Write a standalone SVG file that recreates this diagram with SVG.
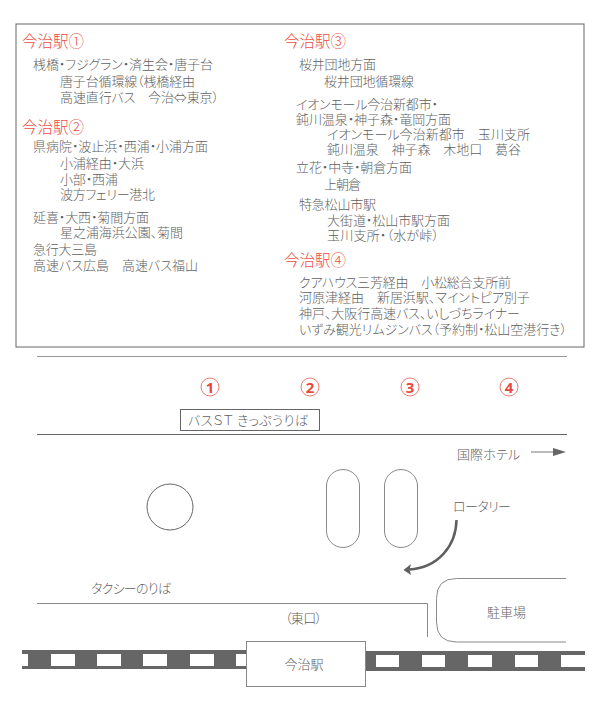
<svg xmlns="http://www.w3.org/2000/svg" width="600" height="725" viewBox="0 0 600 725">
<style>
text{font-family:"Noto Sans CJK JP","Noto Sans",sans-serif;fill:#5f5f5f;font-size:13px;font-weight:300;font-feature-settings:"palt"}
.h{fill:#ea4f45;font-size:15.5px;font-feature-settings:normal}
.n{fill:#e8493f;font-family:"Open Sans","Noto Sans",sans-serif;font-weight:700;font-size:15px;text-anchor:middle}
.m{font-size:13px;text-anchor:middle}
.c{fill:#fff;stroke:#ee7a72;stroke-width:1}
.s{fill:none;stroke:#666;stroke-width:1}
.g{fill:none;stroke:#8a8a8a;stroke-width:1}
.w{fill:#fff}
</style>
<g id="legend">
<rect x="16" y="24" width="568" height="323" fill="#fff" stroke="#666"/>
<text class="h" x="22" y="47">今治駅①</text>
<text x="33" y="69" textLength="180">桟橋・フジグラン・済生会・唐子台</text>
<text x="60" y="86" textLength="135">唐子台循環線（桟橋経由</text>
<text x="60" y="102" textLength="159">高速直行バス　今治⇔東京）</text>
<text class="h" x="22" y="133">今治駅②</text>
<text x="33" y="151" textLength="175">県病院・波止浜・西浦・小浦方面</text>
<text x="60" y="168" textLength="84">小浦経由・大浜</text>
<text x="60" y="184" textLength="58">小部・西浦</text>
<text x="60" y="199" textLength="95">波方フェリー港北</text>
<text x="33" y="222" textLength="116">延喜・大西・菊間方面</text>
<text x="60" y="237" textLength="123">星之浦海浜公園、菊間</text>
<text x="33" y="254" textLength="64">急行大三島</text>
<text x="33" y="270" textLength="165">高速バス広島　高速バス福山</text>
<text class="h" x="284" y="47">今治駅③</text>
<text x="299" y="69" textLength="77">桜井団地方面</text>
<text x="324" y="86" textLength="90">桜井団地循環線</text>
<text x="296" y="109" textLength="142">イオンモール今治新都市・</text>
<text x="296" y="124" textLength="155">鈍川温泉・神子森・竜岡方面</text>
<text x="327" y="139" textLength="203">イオンモール今治新都市　玉川支所</text>
<text x="327" y="154" textLength="194">鈍川温泉　神子森　木地口　葛谷</text>
<text x="296" y="172" textLength="116">立花・中寺・朝倉方面</text>
<text x="324" y="189" textLength="37">上朝倉</text>
<text x="299" y="209" textLength="77">特急松山市駅</text>
<text x="327" y="225" textLength="123">大街道・松山市駅方面</text>
<text x="327" y="240" textLength="112">玉川支所・（水が峠）</text>
<text class="h" x="284" y="266">今治駅④</text>
<text x="299" y="287" textLength="212">クアハウス三芳経由　小松総合支所前</text>
<text x="299" y="302" textLength="231">河原津経由　新居浜駅、マイントピア別子</text>
<text x="299" y="318" textLength="221">神戸、大阪行高速バス、いしづちライナー</text>
<text x="299" y="334" textLength="268">いずみ観光リムジンバス（予約制・松山空港行き）</text>
</g>
<g id="roads">
<path d="M37 356.500H567" stroke="#999" fill="none"/>
<path d="M37 434.500H567" class="s"/>
<path d="M37 603.500H427.500V637" class="g"/>
</g>
<g id="stop1"><circle class="c" cx="210" cy="387" r="9"/><text class="n" x="210" y="392.500">1</text></g>
<g id="stop2"><circle class="c" cx="310" cy="387" r="9"/><text class="n" x="310" y="392.500">2</text></g>
<g id="stop3"><circle class="c" cx="410" cy="387" r="9"/><text class="n" x="410" y="392.500">3</text></g>
<g id="stop4"><circle class="c" cx="509" cy="387" r="9"/><text class="n" x="509" y="392.500">4</text></g>
<g id="ticket"><rect class="s" x="180.500" y="409.500" width="139" height="21"/><text x="188" y="425" textLength="120">バスＳＴ きっぷうりば</text></g>
<g id="circle"><circle class="s" cx="170" cy="507" r="23"/></g>
<g id="island1"><rect class="g" x="326.500" y="469.500" width="33" height="78" rx="16.500"/></g>
<g id="island2"><rect class="g" x="384.500" y="469.500" width="33" height="78" rx="16.500"/></g>
<g id="hotel"><text x="457" y="459" textLength="63">国際ホテル</text></g>
<g id="rotary"><text x="453" y="511" textLength="58">ロータリー</text></g>
<g id="taxi"><text x="91" y="593" textLength="80">タクシーのりば</text></g>
<g id="east"><text x="285" y="623" textLength="37">（東口）</text></g>
<g id="parking"><path class="g" d="M566 578.500H456.500Q436.500 578.500 436.500 598.500V622Q436.500 642 456.500 642H566"/><text class="m" x="506.500" y="617">駐車場</text></g>
<g id="track">
<rect x="22" y="650" width="226" height="19" fill="#666"/>
<rect x="364" y="651" width="221" height="20" fill="#666"/>
<path class="w" d="M22 654h6v12h-6zM51 654h24v12h-24zM97 654h24v12h-24zM143 654h24v12h-24zM190 654h24v12h-24zM236 654h12v12h-12zM376 655h23v12h-23zM422 655h23v12h-23zM468 655h24v12h-24zM515 655h23v12h-23zM561 655h24v12h-24z"/>
</g>
<g id="station"><rect x="246.500" y="641.500" width="119" height="45" fill="#fff" stroke="#888"/><text class="m" x="304" y="669">今治駅</text></g>
<g id="connectors">
<path d="M531 452H553" stroke="#777" fill="none"/>
<path d="M553 448L566 452L553 456Z" fill="#666"/>
<path d="M456.500 520C456 546 438 568 409 569.500" fill="none" stroke="#5f5f5f" stroke-width="2.500"/>
<path d="M403.500 570L411 564L409.500 569.500L411 575Z" fill="#5f5f5f"/>
</g>
</svg>
